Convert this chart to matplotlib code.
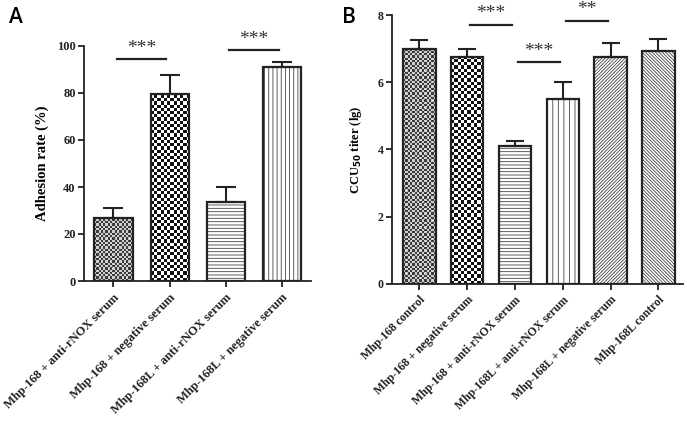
import numpy as np
import matplotlib
matplotlib.use('Agg')
import matplotlib.pyplot as plt

# panel A data
groups_a = ['Mhp-168 + anti-rNOX serum', 'Mhp-168 + negative serum',
            'Mhp-168L + anti-rNOX serum', 'Mhp-168L + negative serum']
adhesion = [26.8, 79.4, 33.7, 90.9]
adhesion_err = [4.2, 8.1, 6.4, 2.2]
hatch_a = ['checker_fine', 'checker', '-----', '||||']
sig_a = [(0, 1, 94.3, '***'), (2, 3, 98.2, '***')]

# panel B data
groups_b = ['Mhp-168 control', 'Mhp-168 + negative serum', 'Mhp-168 + anti-rNOX serum',
            'Mhp-168L + anti-rNOX serum', 'Mhp-168L + negative serum', 'Mhp-168L control']
titer = [7.0, 6.76, 4.1, 5.5, 6.76, 6.92]
titer_err = [0.25, 0.24, 0.14, 0.51, 0.41, 0.38]
hatch_b = ['checker_fine', 'checker', '-----', '|||', '/' * 10, '\\' * 10]
sig_b = [(1, 2, 7.7, '***'), (2, 3, 6.59, '***'), (3, 4, 7.82, '**')]

plt.rcParams['font.family'] = ['Liberation Serif', 'DejaVu Serif']
plt.rcParams['hatch.linewidth'] = 0.6

W, H = 685, 423
fig = plt.figure(figsize=(W / 100, H / 100), dpi=100)


def checker(ax, x0, w, h, cell_px, c1, c2):
    # cell size in data units so cells come out square in pixels
    bb = ax.get_window_extent()
    xl, yl = ax.get_xlim(), ax.get_ylim()
    px_x = bb.width / (xl[1] - xl[0])
    px_y = bb.height / (yl[1] - yl[0])
    nx = max(1, int(round(w * px_x / cell_px)))
    ny = int(np.ceil(h * px_y / cell_px))
    img = (np.add.outer(np.arange(ny), np.arange(nx)) % 2).astype(float)
    cmap = matplotlib.colors.ListedColormap([c1, c2])
    return ax.imshow(img, extent=(x0, x0 + w, 0, ny * cell_px / px_y), origin='lower',
                     cmap=cmap, interpolation='nearest', aspect='auto', zorder=1)


def panel(ax, vals, errs, hatches, labels, ylim, xlim, capsize, tick_fs, lab_fs):
    x = np.arange(len(vals))
    width = 0.68
    ax.set_xlim(*xlim)
    ax.set_ylim(*ylim)
    for xi, v, hp in zip(x, vals, hatches):
        if hp.startswith('checker'):
            if hp == 'checker_fine':
                im = checker(ax, xi - width / 2, width, v, 2.3, '#3c3c3c', '#d0d0d0')
            else:
                im = checker(ax, xi - width / 2, width, v, 3.2, '#111111', '#ffffff')
            clip = ax.bar(xi, v, width, facecolor='none', edgecolor='none')[0]
            im.set_clip_path(clip)
        else:
            ax.bar(xi, v, width, facecolor='white', edgecolor='#444444', hatch=hp,
                   linewidth=0, zorder=1)
    ax.bar(x, vals, width, facecolor='none', edgecolor='#222222', linewidth=1.6, zorder=3)
    ax.errorbar(x, vals, yerr=[np.zeros(len(vals)), errs], fmt='none', ecolor='#222222',
                elinewidth=1.5, capsize=capsize, capthick=1.5, zorder=2)
    for s in ['top', 'right']:
        ax.spines[s].set_visible(False)
    for s in ['left', 'bottom']:
        ax.spines[s].set_linewidth(1.3)
        ax.spines[s].set_color('#222222')
    ax.set_xticks(x)
    ax.set_xticklabels(labels, rotation=45, ha='right', rotation_mode='anchor',
                       fontsize=lab_fs, fontweight='bold')
    ax.tick_params(axis='both', direction='out', length=4, width=1.3, colors='#222222')
    ax.tick_params(axis='y', labelsize=tick_fs, pad=2)


def sig(ax, pairs, star_dy, fs):
    for a, b, y, txt in pairs:
        ax.plot([a + 0.06, b - 0.06], [y, y], color='#222222', lw=1.6, clip_on=False)
        ax.text((a + b) / 2, y + star_dy, txt, ha='center', va='center', fontsize=fs,
                color='#333333', clip_on=False)


# panel A
ax_a = fig.add_axes([84 / W, 1 - 281 / H, (311 - 84) / W, (281 - 46) / H])
panel(ax_a, adhesion, adhesion_err, hatch_a, groups_a, (0, 100), (-0.525, 3.516),
      7.5, 9, 9)
ax_a.set_yticks([0, 20, 40, 60, 80, 100])
for t in ax_a.get_yticklabels():
    t.set_fontweight('bold')
ax_a.set_ylabel('Adhesion rate (%)', fontsize=10.5, fontweight='bold', labelpad=6)
sig(ax_a, sig_a, 4.5, 14)

# panel B
ax_b = fig.add_axes([392 / W, 1 - 283.7 / H, (683 - 392) / W, (283.7 - 15) / H])
panel(ax_b, titer, titer_err, hatch_b, groups_b, (0, 8), (-0.573, 5.515),
      6.5, 8.5, 8.5)
ax_b.set_yticks([0, 2, 4, 6, 8])
for t in ax_b.get_yticklabels():
    t.set_fontweight('bold')
ax_b.set_ylabel('CCU$_{\\mathbf{50}}$ titer (lg)', fontsize=9, fontweight='bold', labelpad=10)
sig(ax_b, sig_b, 0.33, 14)

fig.text(9 / W, 1 - 23 / H, 'A', fontsize=15, family=['Open Sans', 'DejaVu Sans'],
         fontweight='semibold')
fig.text(342 / W, 1 - 23 / H, 'B', fontsize=15, family=['Open Sans', 'DejaVu Sans'],
         fontweight='semibold')

fig.savefig('out.png', dpi=100)
